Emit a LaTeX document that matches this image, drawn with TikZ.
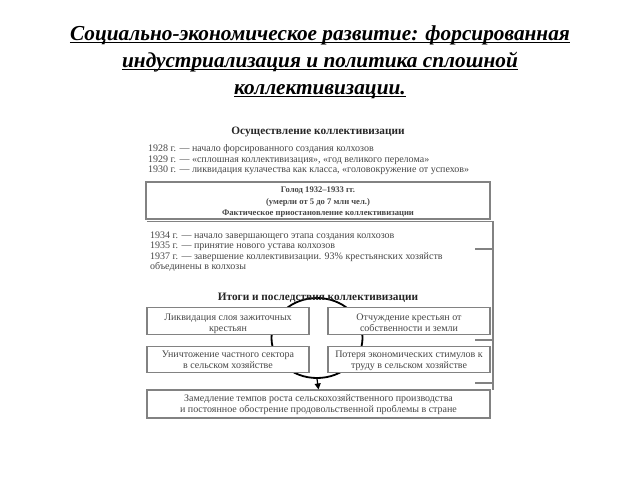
\documentclass[tikz,border=0pt]{standalone}
\usepackage{fontspec}
\setmainfont{Liberation Serif}
\usetikzlibrary{arrows.meta,shapes.geometric}
\definecolor{txtgray}{RGB}{70,70,70}
\definecolor{boxgray}{RGB}{130,130,130}
\newcommand{\bxtext}[2][2pt]{\raisebox{-#1}[\height][\depth]{\begin{tabular}{@{}c@{}}#2\end{tabular}}}
\begin{document}
\begin{tikzpicture}[x=1pt,y=-1pt,
  ttl/.style={font=\bfseries\itshape\fontsize{21.3}{24}\selectfont, inner sep=0, anchor=base},
  uline/.style={line width=1.5pt},
  txt/.style={text=txtgray, font=\fontsize{10}{10.5}\selectfont, inner sep=0, anchor=base west},
  hdr/.style={text=black!85, font=\bfseries\fontsize{11.3}{13}\selectfont, inner sep=0, anchor=base},
  box/.style={draw=boxgray, fill=white, line width=1.1pt, inner sep=0, align=center, text=txtgray,
    font=\fontsize{10}{11.3}\selectfont},
  frame/.style={draw=boxgray, line width=1.1pt},
  ring/.style={ellipse, draw=black, line width=1.8pt, inner sep=0},
  arr/.style={-{Triangle[length=6pt,width=6pt]}, line width=1.2pt, black}]
\useasboundingbox (0,0) rectangle (640,480);

% title
\node[ttl] (t1) at (320,40) {Социально-экономическое развитие: форсированная};
\node[ttl] (t2) at (320,67) {индустриализация и политика сплошной};
\node[ttl] (t3) at (320,94) {коллективизации.};
\foreach \t in {t1,t2,t3}
  \draw[uline] ([yshift=-2.5pt]\t.base west) -- ([yshift=-2.5pt]\t.base east);

% first block
\node[hdr] (h1) at (318,134) {Осуществление коллективизации};
\node[txt] (l1) at (148,151.5) {1928 г. — начало форсированного создания колхозов};
\node[txt] (l2) at (148,162) {1929 г. — «сплошная коллективизация», «год великого перелома»};
\node[txt] (l3) at (148,172.5) {1930 г. — ликвидация кулачества как класса, «головокружение от успехов»};

\node[box, minimum width=344, minimum height=37] (famine) at (318,200.5) {};
\node[inner sep=0, align=center, text=txtgray, font=\bfseries\fontsize{8.6}{11.5}\selectfont]
  (famtext) at (318,202.5) {Голод 1932–1933 гг.\\(умерли от 5 до 7 млн чел.)\\Фактическое приостановление коллективизации};

% right frame
\coordinate (ftl) at (147,221.5);
\coordinate (fbr) at (493,390);
\draw[frame] (ftl) -| (fbr);
\coordinate (s1a) at (475,249); \coordinate (s1b) at (493,249);
\coordinate (s2a) at (475,340); \coordinate (s2b) at (493,340);
\coordinate (s3a) at (475,383); \coordinate (s3b) at (493,383);
\draw[frame] (s1a) -- (s1b);
\draw[frame] (s2a) -- (s2b);
\draw[frame] (s3a) -- (s3b);

\node[txt] (l4) at (150,238) {1934 г. — начало завершающего этапа создания колхозов};
\node[txt] (l5) at (150,248.5) {1935 г. — принятие нового устава колхозов};
\node[txt] (l6) at (150,259) {1937 г. — завершение коллективизации. 93\% крестьянских хозяйств};
\node[txt] (l7) at (150,269.5) {объединены в колхозы};

% results
\node[ring, minimum width=91, minimum height=80] (ring) at (317,338) {};
\node[hdr] (h2) at (318,300) {Итоги и последствия коллективизации};

\node[box, minimum width=162, minimum height=27] (b1) at (228,321) {\bxtext[2.5pt]{Ликвидация слоя зажиточных\\крестьян}};
\node[box, minimum width=162, minimum height=27] (b2) at (409,321) {\bxtext[2.5pt]{Отчуждение крестьян от\\собственности и земли}};
\node[box, minimum width=162, minimum height=26] (b3) at (228,359.5) {\bxtext[1.5pt]{Уничтожение частного сектора\\в сельском хозяйстве}};
\node[box, minimum width=162, minimum height=26] (b4) at (409,359.5) {\bxtext[1.5pt]{Потеря экономических стимулов к\\труду в сельском хозяйстве}};

\node[box, minimum width=343, minimum height=28] (final) at (318.5,404)
  {\bxtext[0.5pt]{Замедление темпов роста сельскохозяйственного производства\\и постоянное обострение продовольственной проблемы в стране}};

\draw[arr] (ring.south) -- (final.north);
\end{tikzpicture}
\end{document}
